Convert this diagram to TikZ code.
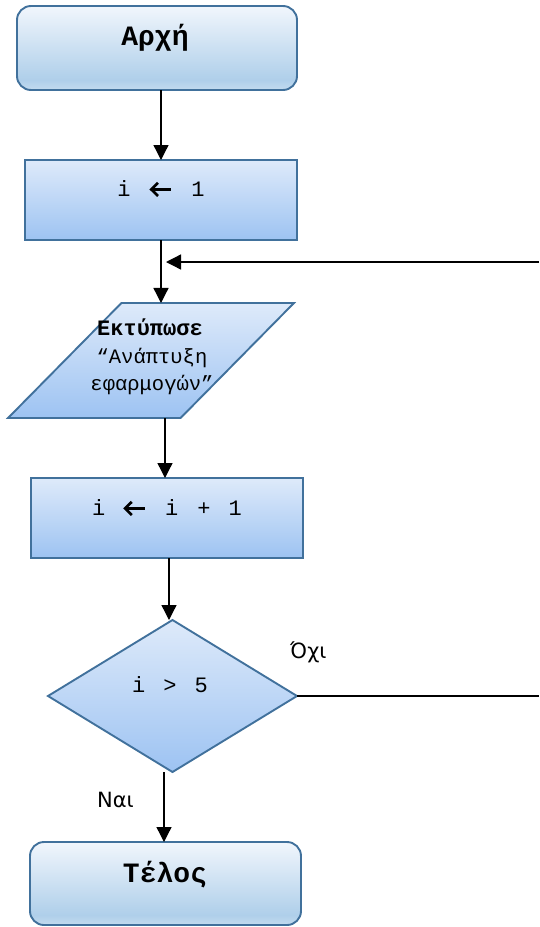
\documentclass[tikz,border=0pt]{standalone}
\usepackage{fontspec}
\usetikzlibrary{arrows.meta,shapes.geometric,calc}
\newfontfamily\monofnt{Liberation Mono}
\newfontfamily\labfnt{DejaVu Sans}
% assignment arrow, drawn as an open chevron with a thick shaft
\newcommand{\larr}{\tikz[x=1pt,y=1pt,baseline=0pt]{%
  \draw[line width=2.7pt] (1.5,6.6) -- (21.5,6.6);
  \draw[line width=2.7pt, line join=miter] (8.5,0) -- (1.8,6.6) -- (8.5,13.2);}}

\definecolor{edge}{HTML}{41719C}
\definecolor{termTop}{HTML}{F1F6FC}
\definecolor{termMid}{HTML}{AFCFEA}
\definecolor{termBot}{HTML}{C3DBEF}
\definecolor{procTop}{HTML}{DEEAFA}
\definecolor{procBot}{HTML}{9DC3F2}

% vertical fills: the path spans 25bp..75bp of each shading
\pgfdeclareverticalshading{termfill}{100bp}{%
  color(0bp)=(termBot); color(25bp)=(termBot); color(31bp)=(termMid);
  color(75bp)=(termTop); color(100bp)=(termTop)}
\pgfdeclareverticalshading{procfill}{100bp}{%
  color(0bp)=(procBot); color(25bp)=(procBot);
  color(75bp)=(procTop); color(100bp)=(procTop)}

\begin{document}
\begin{tikzpicture}[x=1pt,y=-1pt,
  shape base/.style={draw=edge, line width=1.9pt, inner sep=0pt, outer sep=0pt},
  terminal/.style={shape base, rectangle, rounded corners=14pt, shading=termfill},
  process/.style={shape base, rectangle, shading=procfill},
  iobox/.style={shape base, inner sep=2pt, trapezium, trapezium left angle=64.4,
    trapezium right angle=115.6, trapezium stretches=true, shading=procfill},
  decision/.style={shape base, inner sep=2pt, diamond, shading=procfill},
  flow/.style={line width=1.3pt, -{Triangle[width=15pt,length=15pt]}},
  plain/.style={line width=1.3pt},
  txt/.style={anchor=base, inner sep=0pt, font=\monofnt\fontsize{22}{26}\selectfont},
  boldtxt/.style={anchor=base, inner sep=0pt, font=\monofnt\bfseries\fontsize{28}{30}\selectfont},
  iotxt/.style={anchor=base, inner sep=0pt, font=\monofnt\fontsize{20.5}{24}\selectfont},
  lab/.style={anchor=base west, inner sep=0pt, font=\labfnt\fontsize{21}{24}\selectfont}
]
\useasboundingbox (0,0) rectangle (539,927);

% shapes
\node[terminal, minimum width=280pt, minimum height=84pt] (start) at (157,48) {};
\node[process,  minimum width=272pt, minimum height=80pt] (init) at (161,200) {};
\node[iobox,    minimum width=286pt, minimum height=115pt] (out) at (151,360.5) {\strut};
\node[process,  minimum width=272pt, minimum height=80pt] (incr) at (167,518) {};
\node[decision, minimum width=249pt, minimum height=152pt] (test) at (172.5,696) {\strut};
\node[terminal, minimum width=271pt, minimum height=83pt] (stop) at (165.5,883.5) {};

% texts
\node[boldtxt] (tstart) at (155,45) {Αρχή};
\node[txt] (tinit) at (161,196) {i\hspace{19pt}\larr\hspace{19pt}1};
\node[iotxt, font=\monofnt\bfseries\fontsize{22}{24}\selectfont] (tout1) at (150,335) {Εκτύπωσε};
\node[iotxt] (tout2) at (152,363) {“Ανάπτυξη};
\node[iotxt] (tout3) at (152,390) {εφαρμογών”};
\node[txt] (tincr) at (167,515) {i\hspace{18pt}\larr\hspace{19pt}i\hspace{19pt}+\hspace{18pt}1};
\node[txt] (ttest) at (170,692) {i\hspace{18pt}>\hspace{18pt}5};
\node[boldtxt] (tstop) at (165,882) {Τέλος};
\node[lab] (lno) at (290,658) {Όχι};
\node[lab] (lyes) at (97,807) {Ναι};

% loop return coordinates on the right edge
\coordinate (backhigh) at (539,262);
\coordinate (backlow) at (539,696);
\coordinate (join) at (166,262);

% connectors
\draw[flow] (start.south -| init.north) -- (init.north);
\draw[flow] (init.south) -- (init.south |- out.north);
\draw[flow] (out.south -| 165,0) -- (incr.north -| 165,0);
\draw[flow] (incr.south -| 169,0) -- (test.north -| 169,0);
\draw[flow] (test.south -| 164,0) -- (stop.north -| 164,0);
\draw[plain] (test.east) -- (backlow);
\draw[flow] (backhigh) -- (join);
\end{tikzpicture}
\end{document}
